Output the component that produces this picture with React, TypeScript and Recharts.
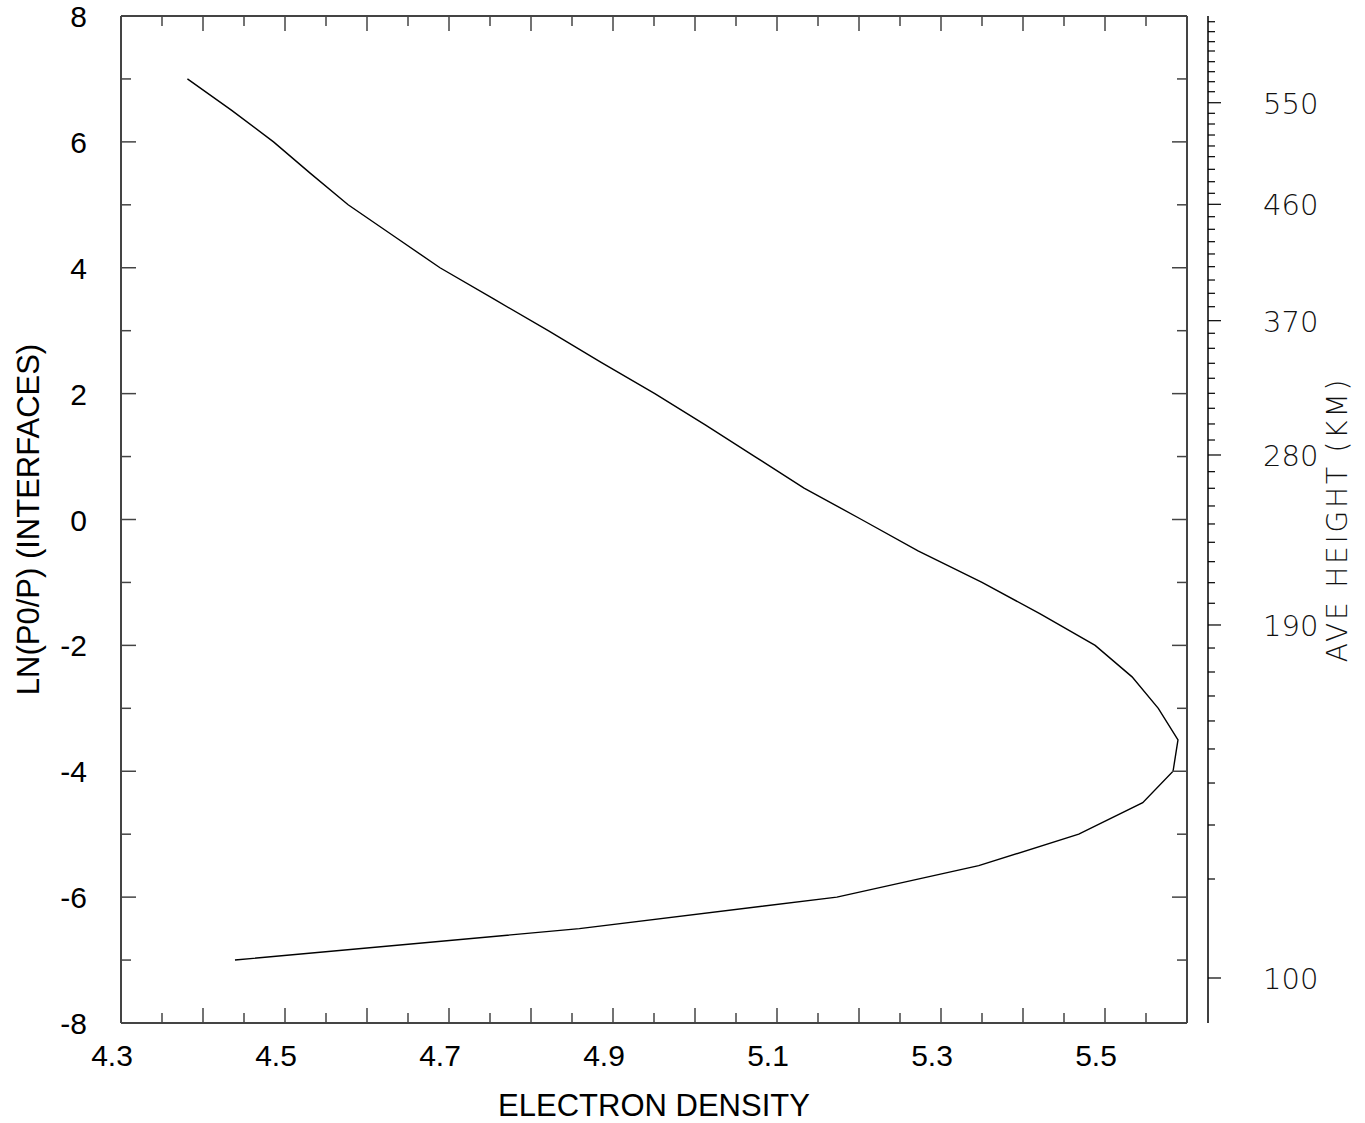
import { LineChart, Line, XAxis, YAxis, Label } from 'recharts'

// ln(p0/p) at each interface, and the electron density
const LN_P = [
  7, 6.5, 6, 5.5, 5, 4.5, 4, 3.5, 3, 2.5, 2, 1.5, 1, 0.5, 0,
  -0.5, -1, -1.5, -2, -2.5, -3, -3.5, -4, -4.5, -5, -5.5, -6, -6.5, -7,
]
const DENSITY = [
  4.381, 4.435, 4.486, 4.531, 4.577, 4.633, 4.689, 4.755, 4.821, 4.885, 4.951, 5.013, 5.073, 5.133, 5.203,
  5.272, 5.35, 5.421, 5.488, 5.533, 5.565, 5.589, 5.583, 5.546, 5.468, 5.346, 5.173, 4.859, 4.439,
]

const X_TICKS = [
  4.3, 4.35, 4.4, 4.45, 4.5, 4.55, 4.6, 4.65, 4.7, 4.75, 4.8, 4.85, 4.9, 4.95,
  5.0, 5.05, 5.1, 5.15, 5.2, 5.25, 5.3, 5.35, 5.4, 5.45, 5.5, 5.55, 5.6,
]
const X_LABELS = [4.3, 4.5, 4.7, 4.9, 5.1, 5.3, 5.5]
const Y_TICKS = [-8, -7, -6, -5, -4, -3, -2, -1, 0, 1, 2, 3, 4, 5, 6, 7, 8]
const Y_LABELS = [-8, -6, -4, -2, 0, 2, 4, 6, 8]

// right-hand height scale: km and where each tick sits in ln(p0/p)
const HEIGHT_KM = [
  100, 110, 120, 130, 140, 150, 160, 170, 180, 190, 200, 210, 220, 230, 240, 250, 260, 270,
  280, 290, 300, 310, 320, 330, 340, 350, 360, 370, 380, 390, 400, 410, 420, 430, 440, 450,
  460, 470, 480, 490, 500, 510, 520, 530, 540, 550, 560, 570, 580, 590, 600, 610, 620, 630,
]
const HEIGHT_LNP = [
  -7.285, -5.712, -4.854, -4.187, -3.646, -3.201, -2.804, -2.423, -2.042, -1.676, -1.331, -1.004, -0.67, -0.362, -0.071, 0.215, 0.496, 0.76,
  1.025, 1.263, 1.518, 1.767, 2.005, 2.244, 2.482, 2.72, 2.959, 3.159, 3.381, 3.594, 3.805, 4.017, 4.219, 4.414, 4.611, 4.811,
  5.008, 5.183, 5.367, 5.564, 5.765, 5.935, 6.109, 6.284, 6.454, 6.622, 6.797, 6.956, 7.115, 7.274, 7.444, 7.592, 7.751, 7.909,
]
const HEIGHT_LABELS = [100, 190, 280, 370, 460, 550]

const data = LN_P.map((p, i) => ({ lnp: p, density: DENSITY[i] }))

const FONT = '"Liberation Sans", Arial, sans-serif'
const THIN = '"DejaVu Sans", sans-serif'
const AXIS = '#444'

const near = (a: number, b: number) => Math.abs(a - b) < 1e-6

function BottomTick({ x, y, payload }: any) {
  const v = payload.value
  const major = near(v * 10, Math.round(v * 10))
  const labelled = X_LABELS.some((l) => near(l, v))
  return (
    <g>
      <line x1={x} x2={x} y1={y} y2={y - (major ? 15 : 10)} stroke={AXIS} strokeWidth={1.5} />
      {labelled && (
        <text x={x - 9} y={y + 43} textAnchor="middle" fontFamily={FONT} fontSize={30} fill="#000">
          {v.toFixed(1)}
        </text>
      )}
    </g>
  )
}

function TopTick({ x, y, payload }: any) {
  const v = payload.value
  const major = near(v * 10, Math.round(v * 10))
  return <line x1={x} x2={x} y1={y} y2={y + (major ? 15 : 10)} stroke={AXIS} strokeWidth={1.5} />
}

function LeftTick({ x, y, payload }: any) {
  const v = payload.value
  const major = Y_LABELS.includes(v)
  return (
    <g>
      <line x1={x} x2={x + (major ? 15 : 10)} y1={y} y2={y} stroke={AXIS} strokeWidth={1.5} />
      {major && (
        <text x={x - 34} y={y + 11} textAnchor="end" fontFamily={FONT} fontSize={30} fill="#000">
          {v}
        </text>
      )}
    </g>
  )
}

function BorderTick({ x, y, payload }: any) {
  const major = Y_LABELS.includes(payload.value)
  return <line x1={x} x2={x - (major ? 15 : 10)} y1={y} y2={y} stroke={AXIS} strokeWidth={1.5} />
}

function HeightTick({ x, y, payload }: any) {
  const i = HEIGHT_LNP.findIndex((p) => near(p, payload.value))
  const km = HEIGHT_KM[i]
  const labelled = HEIGHT_LABELS.includes(km)
  return (
    <g>
      <line x1={x} x2={x + (labelled ? 13 : 7)} y1={y} y2={y} stroke="#000" strokeWidth={1.2} />
      {labelled && (
        <text x={x + 55} y={y + 11} fontFamily={THIN} fontWeight={200} fontSize={29} fill="#111">
          {km}
        </text>
      )}
    </g>
  )
}

export default function App() {
  return (
    <div style={{ position: 'absolute', left: 0, top: 0, background: '#fff' }}>
      <LineChart width={1365} height={1123} data={data} margin={{ top: 0, right: 0, bottom: 0, left: 0 }}>
        <XAxis
          xAxisId="bottom"
          type="number"
          dataKey="density"
          domain={[4.3, 5.6]}
          allowDataOverflow
          ticks={X_TICKS}
          interval={0}
          height={100}
          tickSize={0}
          tickMargin={0}
          tick={BottomTick}
          axisLine={{ stroke: AXIS, strokeWidth: 2 }}
          tickLine={false}
        >
          <Label
            content={({ viewBox }: any) => (
              <text
                x={viewBox.x + viewBox.width / 2}
                y={viewBox.y + 93}
                textAnchor="middle"
                fontFamily={FONT}
                fontSize={31}
                fill="#000"
              >
                ELECTRON DENSITY
              </text>
            )}
          />
        </XAxis>
        <XAxis
          xAxisId="top"
          orientation="top"
          type="number"
          dataKey="density"
          domain={[4.3, 5.6]}
          allowDataOverflow
          ticks={X_TICKS}
          interval={0}
          height={16}
          tickSize={0}
          tickMargin={0}
          tick={TopTick}
          axisLine={{ stroke: AXIS, strokeWidth: 2 }}
          tickLine={false}
        />
        <YAxis
          yAxisId="left"
          type="number"
          domain={[-8, 8]}
          allowDataOverflow
          ticks={Y_TICKS}
          interval={0}
          width={121}
          tickSize={0}
          tickMargin={0}
          tick={LeftTick}
          axisLine={{ stroke: AXIS, strokeWidth: 2 }}
          tickLine={false}
        >
          <Label
            content={({ viewBox }: any) => {
              const cx = viewBox.x + 28
              const cy = viewBox.y + viewBox.height / 2
              return (
                <text
                  x={cx}
                  y={cy}
                  transform={`rotate(-90 ${cx} ${cy})`}
                  textAnchor="middle"
                  dominantBaseline="central"
                  fontFamily={FONT}
                  fontSize={31}
                  fill="#000"
                >
                  LN(P0/P) (INTERFACES)
                </text>
              )
            }}
          />
        </YAxis>
        <YAxis
          yAxisId="axisK"
          orientation="right"
          type="number"
          domain={[-8, 8]}
          allowDataOverflow
          ticks={HEIGHT_LNP}
          interval={0}
          width={157}
          tickSize={0}
          tickMargin={0}
          tick={HeightTick}
          axisLine={{ stroke: '#000', strokeWidth: 1.5 }}
          tickLine={false}
        >
          <Label
            content={({ viewBox }: any) => {
              const cx = viewBox.x + 129
              const cy = viewBox.y + viewBox.height / 2
              return (
                <text
                  x={cx}
                  y={cy}
                  transform={`rotate(-90 ${cx} ${cy})`}
                  textAnchor="middle"
                  dominantBaseline="central"
                  fontFamily={THIN}
                  fontWeight={200}
                  fontSize={28}
                  letterSpacing={2.8}
                  fill="#111"
                >
                  AVE HEIGHT (KM)
                </text>
              )
            }}
          />
        </YAxis>
        <YAxis
          yAxisId="axisB"
          orientation="right"
          type="number"
          domain={[-8, 8]}
          allowDataOverflow
          ticks={Y_TICKS}
          interval={0}
          width={21}
          tickSize={0}
          tickMargin={0}
          tick={BorderTick}
          axisLine={{ stroke: AXIS, strokeWidth: 2 }}
          tickLine={false}
        />
        <Line
          xAxisId="bottom"
          yAxisId="left"
          type="linear"
          dataKey="lnp"
          stroke="#000"
          strokeWidth={1.4}
          dot={false}
          isAnimationActive={false}
        />
      </LineChart>
    </div>
  )
}
